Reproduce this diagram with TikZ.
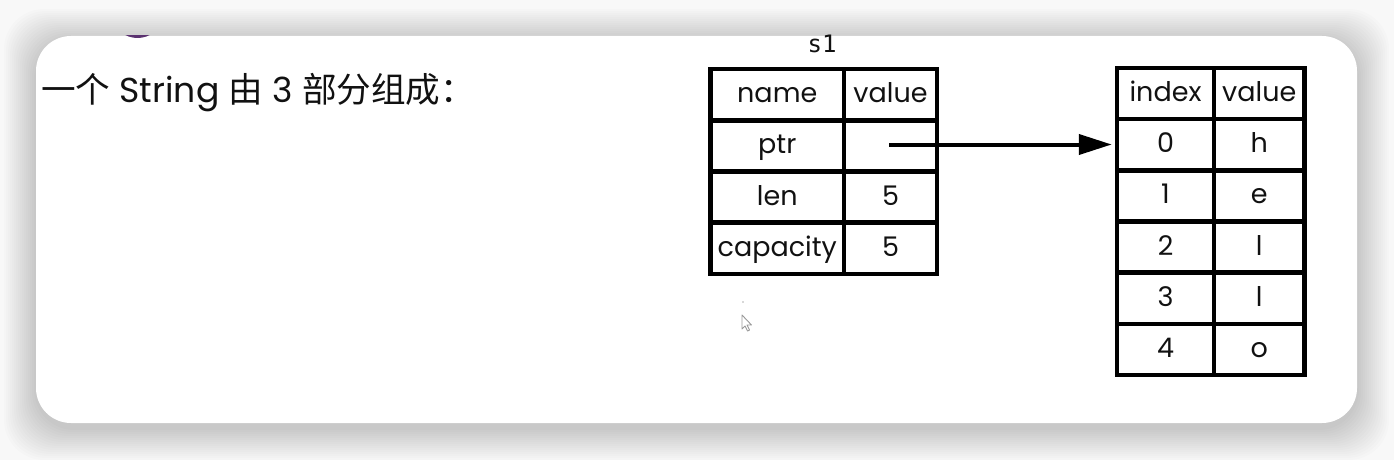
\documentclass[tikz,border=0pt]{standalone}
\usepackage{fontspec}
\setmainfont{Poppins}
\newfontfamily\cjk{Noto Sans CJK SC}
\newfontfamily\monof{DejaVu Sans Mono}
\usetikzlibrary{arrows.meta}
\definecolor{bgc}{HTML}{F8F8F8}
\definecolor{textc}{HTML}{111111}
\definecolor{purp}{HTML}{5B3270}
\tikzset{
  cellbase/.style={draw=black, line width=4.5pt, inner sep=0pt, text=textc,
    font=\fontsize{27}{30}\selectfont, text height=19pt, text depth=3pt},
  cellA/.style={cellbase, minimum height=51.25pt},
  cellB/.style={cellbase, minimum height=51.17pt},
  ptrarrow/.style={line width=4pt, -{Triangle[length=33pt,width=20pt]}},
  shadowlayer/.style={fill=black, opacity=0.010, rounded corners=40pt},
}
\begin{document}
\begin{tikzpicture}[x=1pt,y=-1pt]
\useasboundingbox (0,0) rectangle (1394,460);
\fill[bgc] (0,0) rectangle (1394,460);
% shadow
\foreach \i in {1,...,16}{
  \fill[shadowlayer] ({36-2*\i},{36-2*\i+5}) rectangle ({1357+2*\i},{423+2*\i+5});
}
% card
\fill[white, rounded corners=35pt] (36,36) rectangle (1357,423);
% cut-off purple shape
\begin{scope}
  \clip (36,36) rectangle (400,60);
  \fill[purp] (137.5,20) ellipse (22 and 18);
\end{scope}
% title
\node[anchor=west, text=textc, inner sep=0pt, font=\fontsize{34.6}{38}\selectfont]
  (title) at (41,93) {{\cjk 一个} String {\cjk 由} 3 {\cjk 部分组成：}};
% s1 label
\node[text=textc, inner sep=0pt, font=\monof\fontsize{24}{26}\selectfont] (s1) at (822,44) {s1};
% left table
\node[cellA, minimum width=133.5pt] (h1) at (777.25,94.6) {name};
\node[cellA, minimum width=93pt] (h2) at (890.5,94.6) {value};
\node[cellA, minimum width=133.5pt] (p1) at (777.25,145.9) {ptr};
\node[cellA, minimum width=93pt] (p2) at (890.5,145.9) {};
\node[cellA, minimum width=133.5pt] (l1) at (777.25,197.1) {len};
\node[cellA, minimum width=93pt] (l2) at (890.5,197.1) {5};
\node[cellA, minimum width=133.5pt] (c1) at (777.25,248.4) {capacity};
\node[cellA, minimum width=93pt] (c2) at (890.5,248.4) {5};
% right table
\node[cellB, minimum width=97pt] (ih) at (1165.5,93.6) {index};
\node[cellB, minimum width=90.5pt] (vh) at (1259.25,93.6) {value};
\node[cellB, minimum width=97pt] (i0) at (1165.5,144.75) {0};
\node[cellB, minimum width=90.5pt] (v0) at (1259.25,144.75) {h};
\node[cellB, minimum width=97pt] (i1) at (1165.5,195.9) {1};
\node[cellB, minimum width=90.5pt] (v1) at (1259.25,195.9) {e};
\node[cellB, minimum width=97pt] (i2) at (1165.5,247.1) {2};
\node[cellB, minimum width=90.5pt] (v2) at (1259.25,247.1) {l};
\node[cellB, minimum width=97pt] (i3) at (1165.5,298.25) {3};
\node[cellB, minimum width=90.5pt] (v3) at (1259.25,298.25) {l};
\node[cellB, minimum width=97pt] (i4) at (1165.5,349.4) {4};
\node[cellB, minimum width=90.5pt] (v4) at (1259.25,349.4) {o};
% pointer arrow
\coordinate (pstart) at ([xshift=-1.5pt,yshift=1.4pt]p2.center);
\draw[ptrarrow, shorten >=3pt] (pstart) -- (pstart -| i0.west);
% mouse cursor
\coordinate (cur) at (742,315);
\fill[gray!60] (743,302) circle (0.8);
\draw[gray!80, line width=0.9pt, fill=white, line join=round]
  (cur) -- ++(0,14) -- ++(3,-3) -- ++(2.5,5) -- ++(2,-1) -- ++(-2.5,-5) -- ++(4.5,0) -- cycle;
\end{tikzpicture}
\end{document}
